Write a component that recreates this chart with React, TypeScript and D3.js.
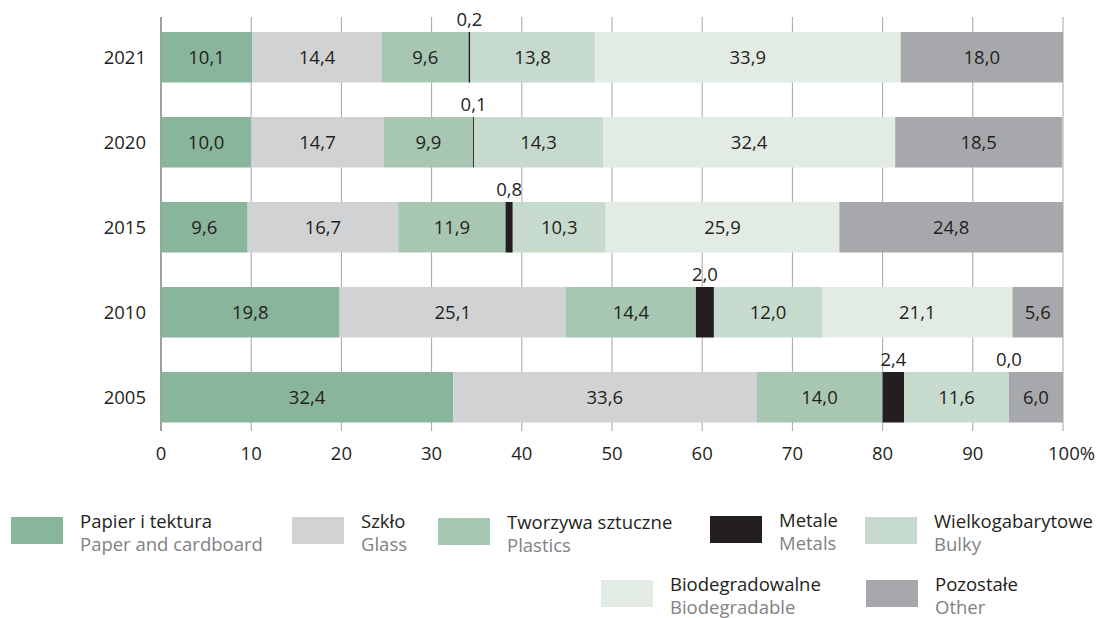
import React from "react";
import * as d3 from "d3";

const years = ["2021", "2020", "2015", "2010", "2005"];
const seriesKeys = ["paper", "glass", "plastics", "metals", "bulky", "biodeg", "other"];
const namesPl = ["Papier i tektura", "Szkło", "Tworzywa sztuczne", "Metale", "Wielkogabarytowe", "Biodegradowalne", "Pozostałe"];
const namesEn = ["Paper and cardboard", "Glass", "Plastics", "Metals", "Bulky", "Biodegradable", "Other"];
const colors = ["#89b59d", "#d1d2d4", "#a7c7b3", "#231f20", "#c6dacd", "#e2ece5", "#a7a8ab"];

const paper = [10.1, 10.0, 9.6, 19.8, 32.4];
const glass = [14.4, 14.7, 16.7, 25.1, 33.6];
const plastics = [9.6, 9.9, 11.9, 14.4, 14.0];
const metals = [0.2, 0.1, 0.8, 2.0, 2.4];
const bulky = [13.8, 14.3, 10.3, 12.0, 11.6];
const biodeg = [33.9, 32.4, 25.9, 21.1, 0.0];
const other = [18.0, 18.5, 24.8, 5.6, 6.0];

const xTicks = [0, 10, 20, 30, 40, 50, 60, 70, 80, 90, 100];

const seriesValues = [paper, glass, plastics, metals, bulky, biodeg, other];

const FONT = "'Open Sans', sans-serif";
const DARK = "#231f20";
const FS = 18.5;

// legend layout (positions only)
const legendPos = [
  { x: 11, y: 517 },
  { x: 292, y: 517 },
  { x: 438, y: 518 },
  { x: 710, y: 516 },
  { x: 865, y: 517 },
  { x: 601, y: 580 },
  { x: 866, y: 580 },
];

export default function App() {
  const W = 1100, H = 618;
  const x = d3.scaleLinear().domain([0, 100]).range([161, 1063]);
  const p = 34.5 / 85;
  const y = d3.scaleBand().domain(years).range([14.75, 439.75]).paddingInner(p).paddingOuter(p / 2);

  const table = years.map((yr, i) => {
    const row: any = { year: yr };
    seriesKeys.forEach((k, j) => (row[k] = seriesValues[j][i]));
    return row;
  });
  const stacked = d3.stack().keys(seriesKeys)(table as any);

  const bw = y.bandwidth();

  return (
    <svg width={W} height={H} style={{ display: "block", position: "absolute", left: 0, top: 0 }} fontFamily={FONT}>
      {/* gridlines */}
      {xTicks.map((t) => (
        <line key={"g" + t} x1={x(t)} x2={x(t)} y1={17} y2={431} stroke={t === 0 ? "#808080" : "#a6a6a6"} strokeWidth={t === 0 ? 1.5 : 1} />
      ))}
      {/* bars */}
      {stacked.map((s, j) => (
        <g key={s.key} fill={colors[j]}>
          {s.map((d, i) => {
            const x0 = x(d[0]);
            const x1 = x(d[1]);
            return <rect key={i} x={x0} y={y(years[i])!} width={Math.max(0, x1 - x0)} height={bw} />;
          })}
        </g>
      ))}
      {/* labels */}
      {stacked.map((s, j) => (
        <g key={"l" + s.key}>
          {s.map((d, i) => {
            const v = seriesValues[j][i];
            const label = v.toFixed(1).replace(".", ",");
            const top = y(years[i])!;
            if (v < 3) {
              return (
                <text key={i} x={x(d[0]) + (x(d[1]) - x(d[0])) / 2} y={top - 6} textAnchor="middle" fontSize={FS} fill={DARK}>
                  {label}
                </text>
              );
            }
            return (
              <text key={i} x={(x(d[0]) + x(d[1])) / 2} y={top + bw / 2 + 6.5} textAnchor="middle" fontSize={FS} fill={DARK}>
                {label}
              </text>
            );
          })}
        </g>
      ))}
      {/* year labels */}
      {years.map((yr) => (
        <text key={yr} x={146} y={y(yr)! + bw / 2 + 7} textAnchor="end" fontSize={FS} fill={DARK}>
          {yr}
        </text>
      ))}
      {/* x tick labels */}
      {xTicks.map((t) =>
        t === 100 ? (
          <text key={"t" + t} x={x(t) - 15} y={460} textAnchor="start" fontSize={FS} fill={DARK}>
            {t}%
          </text>
        ) : (
          <text key={"t" + t} x={x(t)} y={460} textAnchor="middle" fontSize={FS} fill={DARK}>
            {t}
          </text>
        )
      )}
      {/* legend */}
      {namesPl.map((n, j) => {
        const pos = legendPos[j];
        return (
          <g key={"lg" + j}>
            <rect x={pos.x} y={pos.y} width={52} height={27} fill={colors[j]} />
            <text x={pos.x + 69} y={pos.y + 11} fontSize={FS} fill={DARK}>
              {n}
            </text>
            <text x={pos.x + 69} y={pos.y + 34} fontSize={FS} fill="#808285">
              {namesEn[j]}
            </text>
          </g>
        );
      })}
    </svg>
  );
}
